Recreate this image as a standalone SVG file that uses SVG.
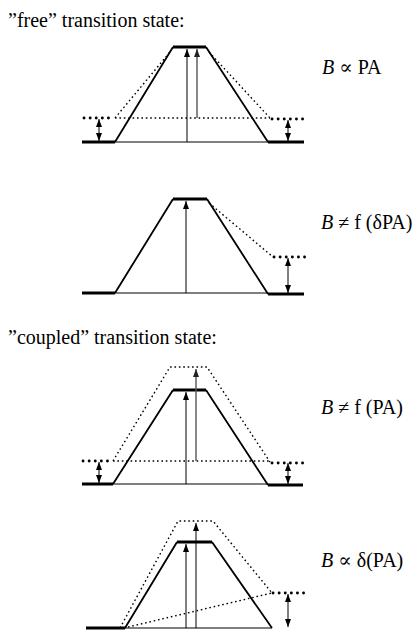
<svg xmlns="http://www.w3.org/2000/svg" width="415" height="630" viewBox="0 0 415 630">
<defs>
<marker id="ah" viewBox="0 0 8 6" refX="8" refY="3" markerWidth="8" markerHeight="6" markerUnits="userSpaceOnUse" orient="auto-start-reverse"><path d="M0,0 L8,3 L0,6 Z" fill="#000"/></marker>
<marker id="ahg" viewBox="0 0 8 6" refX="8" refY="3" markerWidth="8" markerHeight="6" markerUnits="userSpaceOnUse" orient="auto-start-reverse"><path d="M0,0 L8,3 L0,6 Z" fill="#222"/></marker>
<style>
.t{font-family:"Liberation Serif","Times New Roman",serif;font-size:20px;fill:#000}
.l{font-family:"Liberation Serif","DejaVu Serif",serif;font-size:20px;fill:#000}
.b{stroke:#000;stroke-width:3;fill:none}
.s{stroke:#000;stroke-width:1.8;fill:none}
.g{stroke:#000;stroke-width:1.1;fill:none}
.d{stroke:#000;stroke-width:1.4;stroke-dasharray:1.6 2.8;fill:none}
.bd{stroke:#000;stroke-width:2.8;stroke-linecap:round;stroke-dasharray:0.1 6;fill:none}
.v{stroke:#000;stroke-width:1;fill:none;marker-end:url(#ah)}
.vg{stroke:#555;stroke-width:1.4;fill:none;marker-end:url(#ahg)}
.da{stroke:#000;stroke-width:1;fill:none;marker-start:url(#ah);marker-end:url(#ah)}
</style>
</defs>
<text class="t" x="8" y="27">”free” transition state:</text>
<text class="t" x="8" y="344">”coupled” transition state:</text>

<g id="panel1">
<path class="b" d="M82,142 H115 M173,47 H206 M268,142 H304"/>
<path class="s" d="M115,142 L173,47 M206,47 L268,142"/>
<path class="g" d="M115,142 H268"/>
<path class="d" d="M115,118 L170,52 M209,52 L270,118 M115,118 H270"/>
<path class="bd" d="M84,118 H114 M272,119 H304"/>
<path class="da" d="M99,119 V141"/>
<path class="da" d="M288,120 V141"/>
<path class="v" d="M187,142 V49"/>
<path class="vg" d="M197,118 V49"/>
<text class="l" x="322" y="74"><tspan font-style="italic">B</tspan> ∝ PA</text>
</g>

<g id="panel2">
<path class="b" d="M82,293 H115 M173,199 H207 M268,294 H304"/>
<path class="s" d="M115,293 L173,199 M207,199 L268,294"/>
<path class="g" d="M115,293 H268"/>
<path class="d" d="M209,203 L273,257"/>
<path class="bd" d="M274,257 H305"/>
<path class="da" d="M288,258 V293"/>
<path class="v" d="M186,293 V201"/>
<text class="l" x="321" y="229"><tspan font-style="italic">B</tspan> ≠ f (δPA)</text>
</g>

<g id="panel3">
<path class="b" d="M82,484 H113 M173,390 H206 M268,485 H303"/>
<path class="s" d="M113,484 L173,390 M206,390 L268,485"/>
<path class="g" d="M113,484 H268"/>
<path class="d" d="M113,461 L170,367 H207 L270,462 M113,461 H270"/>
<path class="bd" d="M83,461 H112 M272,463 H304"/>
<path class="da" d="M99,462 V483"/>
<path class="da" d="M288,463 V484"/>
<path class="v" d="M186,484 V392"/>
<path class="vg" d="M196,461 V369"/>
<text class="l" x="321" y="414"><tspan font-style="italic">B</tspan> ≠ f (PA)</text>
</g>

<g id="panel4">
<path class="b" d="M86,628 H125 M177,542 H212"/>
<path class="s" d="M125,628 L177,542 M212,542 L272,628"/>
<path class="g" d="M125,628 H272"/>
<path class="d" d="M120,628 L178,521 H213 L272,593 M128,627 L272,593"/>
<path class="bd" d="M273,593 H305"/>
<path class="da" d="M288,594 V627"/>
<path class="v" d="M186,628 V544"/>
<path class="v" d="M196,628 V523"/>
<text class="l" x="321" y="567"><tspan font-style="italic">B</tspan> ∝ δ(PA)</text>
</g>
</svg>
